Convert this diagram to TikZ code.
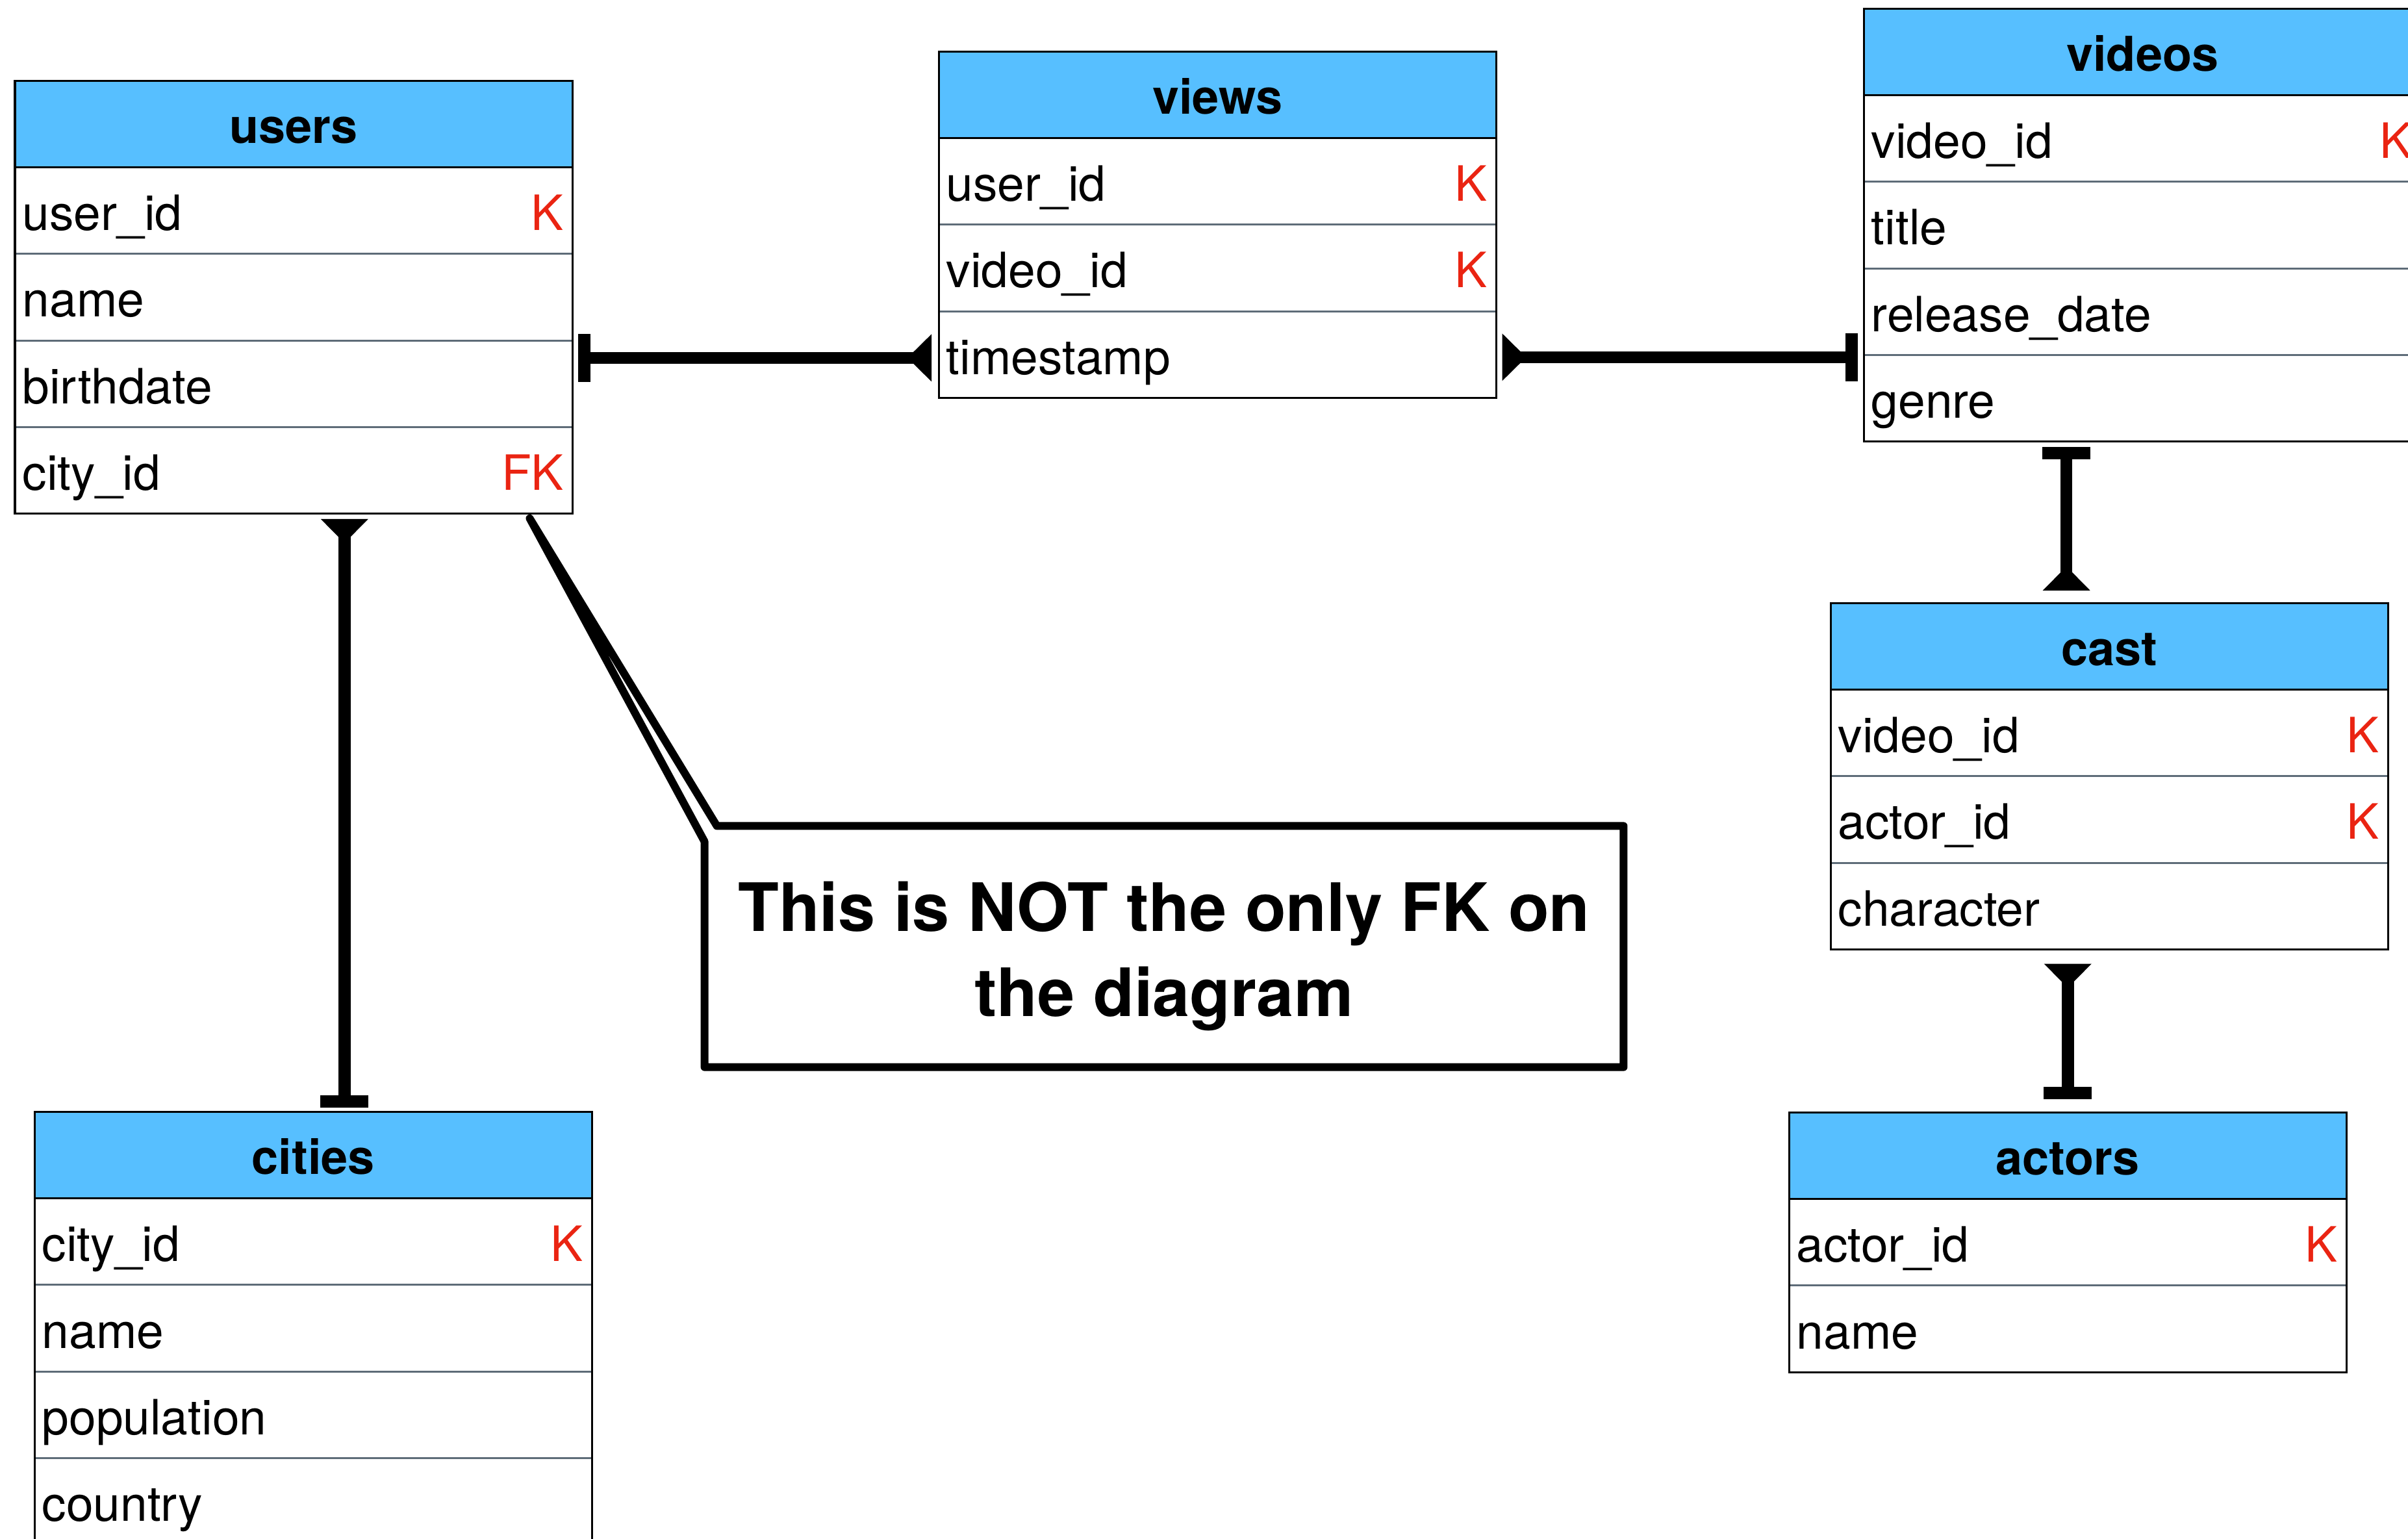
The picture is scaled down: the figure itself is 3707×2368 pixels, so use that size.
\documentclass[tikz,border=0pt]{standalone}
\usepackage{fontspec}
\setmainfont{TeX Gyre Heros}
\usepackage{xcolor}
\usetikzlibrary{arrows.meta,positioning}

\definecolor{hdrblue}{RGB}{87,191,255}
\definecolor{keyred}{RGB}{234,36,18}
\definecolor{sepgray}{RGB}{94,108,120}

% crow-foot style "many" end: wide at the table, narrowing into the line
\pgfdeclarearrow{
  name = Flare,
  parameters = {\the\pgfarrowlength,\the\pgfarrowwidth},
  setup code = {
    \pgfarrowssettipend{0pt}
    \pgfarrowssetlineend{-0.5pt}
    \pgfarrowssetbackend{-\pgfarrowlength}
    \pgfarrowssetvisualbackend{-\pgfarrowlength}
    \pgfarrowsupperhullpoint{0pt}{.5\pgfarrowwidth}
    \pgfarrowsupperhullpoint{-\pgfarrowlength}{0pt}
    \pgfarrowssavethe\pgfarrowlength
    \pgfarrowssavethe\pgfarrowwidth
  },
  drawing code = {
    \pgfpathmoveto{\pgfqpoint{0pt}{.5\pgfarrowwidth}}
    \pgfpathlineto{\pgfqpoint{-\pgfarrowlength}{0pt}}
    \pgfpathlineto{\pgfqpoint{0pt}{-.5\pgfarrowwidth}}
    \pgfpathclose
    \pgfusepathqfill
  },
  defaults = {length = 3mm, width = 6mm}
}

\begin{document}
\begin{tikzpicture}[
  x=0.01cm, y=-0.01cm,
  tblhead/.style={draw=black, line width=0.03cm, fill=hdrblue, anchor=north west, minimum width=8.58cm, minimum height=1.333cm, outer sep=0pt, inner sep=0pt, font=\fontsize{21}{25}\selectfont\bfseries, text height=0.62cm, text depth=0.03cm},
  tblrow/.style={minimum width=8.58cm, minimum height=1.333cm, outer sep=0pt, inner sep=0pt},
  fldlbl/.style={anchor=west, inner xsep=0.11cm, inner ysep=0pt, font=\fontsize{21.3}{25}\selectfont, text height=0.64cm, text depth=0.03cm},
  keylbl/.style={fldlbl, anchor=east, text=keyred, inner xsep=0.13cm},
  sepline/.style={draw=sepgray, line width=0.03cm},
  tblframe/.style={draw=black, line width=0.03cm},
  onebar/.tip={Rectangle[length=0.19cm, width=0.74cm, line width=0pt]},
  manyflare/.tip={Flare[length=0.37cm, width=0.73cm]},
  rel/.style={line width=0.185cm},
  notebox/.style={minimum width=14.14cm, minimum height=3.71cm, outer sep=0pt, inner sep=0pt, align=center, font=\fontsize{29.2}{37.2}\selectfont\bfseries},
  callout/.style={line width=0.12cm, line join=round}
]
\useasboundingbox (0,0) rectangle (3707,2368);
\clip (0,0) rectangle (3707,2368);

% users
\node[tblhead] (users) at (23,124) {users};
\foreach \fld/\k [count=\i] in {user\_id/K, name/, birthdate/, city\_id/FK} {
  \node[tblrow, below=0pt of users, yshift={-(\i-1)*1.333cm}, label={[fldlbl]west:\fld}, label={[keylbl]east:\k}] (users-\i) {};
  \draw[sepline] (users-\i.south west) -- (users-\i.south east);
}
\draw[tblframe] (users.north west) rectangle (users-4.south east);

% views
\node[tblhead] (views) at (1445,79) {views};
\foreach \fld/\k [count=\i] in {user\_id/K, video\_id/K, timestamp/} {
  \node[tblrow, below=0pt of views, yshift={-(\i-1)*1.333cm}, label={[fldlbl]west:\fld}, label={[keylbl]east:\k}] (views-\i) {};
  \draw[sepline] (views-\i.south west) -- (views-\i.south east);
}
\draw[tblframe] (views.north west) rectangle (views-3.south east);

% videos
\node[tblhead] (videos) at (2869,13) {videos};
\foreach \fld/\k [count=\i] in {video\_id/K, title/, release\_date/, genre/} {
  \node[tblrow, below=0pt of videos, yshift={-(\i-1)*1.333cm}, label={[fldlbl]west:\fld}, label={[keylbl]east:\k}] (videos-\i) {};
  \draw[sepline] (videos-\i.south west) -- (videos-\i.south east);
}
\draw[tblframe] (videos.north west) rectangle (videos-4.south east);

% cast
\node[tblhead] (cast) at (2818,928) {cast};
\foreach \fld/\k [count=\i] in {video\_id/K, actor\_id/K, character/} {
  \node[tblrow, below=0pt of cast, yshift={-(\i-1)*1.333cm}, label={[fldlbl]west:\fld}, label={[keylbl]east:\k}] (cast-\i) {};
  \draw[sepline] (cast-\i.south west) -- (cast-\i.south east);
}
\draw[tblframe] (cast.north west) rectangle (cast-3.south east);

% actors
\node[tblhead] (actors) at (2754,1712) {actors};
\foreach \fld/\k [count=\i] in {actor\_id/K, name/} {
  \node[tblrow, below=0pt of actors, yshift={-(\i-1)*1.333cm}, label={[fldlbl]west:\fld}, label={[keylbl]east:\k}] (actors-\i) {};
  \draw[sepline] (actors-\i.south west) -- (actors-\i.south east);
}
\draw[tblframe] (actors.north west) rectangle (actors-2.south east);

% cities
\node[tblhead] (cities) at (53,1711) {cities};
\foreach \fld/\k [count=\i] in {city\_id/K, name/, population/, country/} {
  \node[tblrow, below=0pt of cities, yshift={-(\i-1)*1.333cm}, label={[fldlbl]west:\fld}, label={[keylbl]east:\k}] (cities-\i) {};
  \draw[sepline] (cities-\i.south west) -- (cities-\i.south east);
}
\draw[tblframe] (cities.north west) rectangle (cities-4.south east);

% relations
\draw[rel, onebar-manyflare, shorten <=0.08cm, shorten >=0.11cm] ([yshift=-0.05cm]views-3.west -| users.east) -- ([yshift=-0.05cm]views-3.west);
\draw[rel, manyflare-onebar, shorten <=0.09cm, shorten >=0.09cm] ([yshift=-0.04cm]views-3.east) -- ([yshift=-0.04cm]views-3.east -| videos.west);
\draw[rel, manyflare-onebar, shorten <=0.08cm, shorten >=0.06cm] ([xshift=0.78cm]users-4.south) -- ([xshift=0.78cm]users-4.south |- cities.north);
\draw[rel, onebar-manyflare, shorten <=0.08cm, shorten >=0.19cm] ([xshift=-1.17cm]videos-4.south) -- ([xshift=-1.17cm]videos-4.south |- cast.north);
\draw[rel, manyflare-onebar, shorten <=0.22cm, shorten >=0.20cm] ([xshift=-0.64cm]cast-3.south) -- ([xshift=-0.64cm]cast-3.south |- actors.north);

% callout
\node[notebox] (note) at (1792,1457) {\rule{0pt}{1.07cm}This is NOT the only FK on\\the diagram};
\coordinate (pin) at ([xshift=-0.66cm, yshift=-0.07cm]users-4.south east);
\draw[callout] (note.north east) -- ([xshift=0.19cm]note.north west) -- (pin) -- ([yshift=-0.24cm]note.north west) -- (note.south west) -- (note.south east) -- cycle;
\end{tikzpicture}
\end{document}
